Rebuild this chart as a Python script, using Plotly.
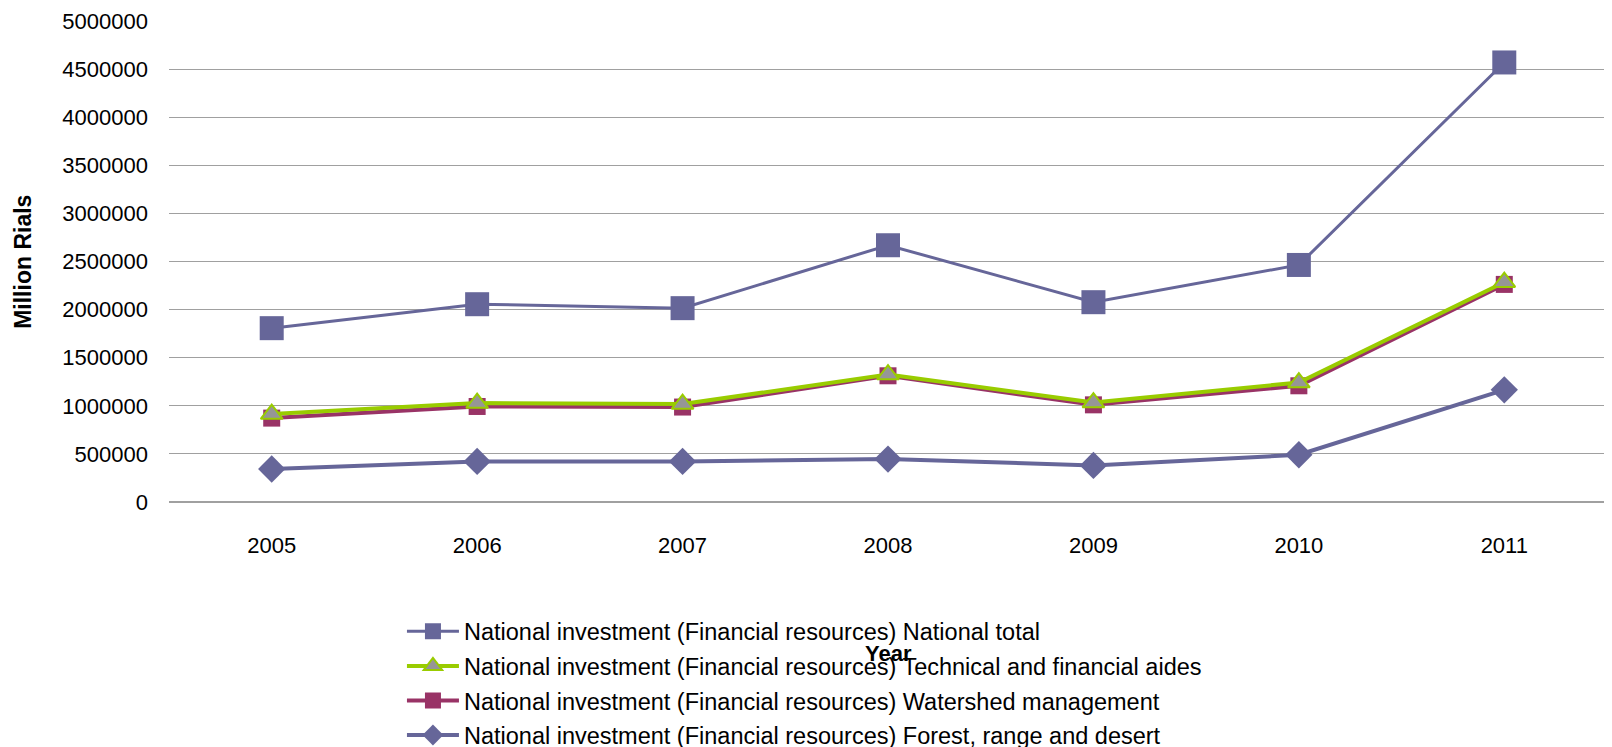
import plotly.graph_objects as go

years = ["2005", "2006", "2007", "2008", "2009", "2010", "2011"]
national_total = [1807000, 2056000, 2015000, 2669000, 2077000, 2464000, 4569000]
technical_aides = [914000, 1028000, 1018000, 1325000, 1034000, 1242000, 2285000]
watershed = [872000, 993000, 987000, 1312000, 1010000, 1208000, 2262000]
forest_range_desert = [343000, 422000, 422000, 446000, 380000, 491000, 1166000]

names = [
    "National investment (Financial resources) National total",
    "National investment (Financial resources) Technical and financial aides",
    "National investment (Financial resources) Watershed management",
    "National investment (Financial resources) Forest, range and desert",
]

FONT = "Liberation Sans, Arial, sans-serif"
SLATE = "#666699"
GREEN = "#99CC00"
MAROON = "#993366"
GRAY = "#969696"

fig = go.Figure()
fig.add_trace(go.Scatter(
    x=years, y=national_total, name=names[0], mode="lines+markers",
    line=dict(color=SLATE, width=3),
    marker=dict(symbol="square", size=24, color=SLATE),
    legendrank=1, legendgroup="a"))
fig.add_trace(go.Scatter(
    x=years, y=watershed, name=names[2], mode="lines+markers",
    line=dict(color=MAROON, width=4),
    marker=dict(symbol="square", size=17, color=MAROON),
    legendrank=3, legendgroup="c"))
fig.add_trace(go.Scatter(
    x=years, y=technical_aides, name=names[1], mode="lines+markers",
    line=dict(color=GREEN, width=4),
    marker=dict(symbol="triangle-up", size=19, color=GRAY,
                line=dict(color=GREEN, width=2)),
    legendrank=2, legendgroup="b"))
fig.add_trace(go.Scatter(
    x=years, y=forest_range_desert, name=names[3], mode="lines+markers",
    line=dict(color=SLATE, width=4),
    marker=dict(symbol="diamond", size=21, color=SLATE),
    legendrank=4, legendgroup="d"))

fig.update_layout(
    width=1604, height=770, autosize=False,
    margin=dict(l=161, r=5, t=13, b=276, autoexpand=False),
    paper_bgcolor="white", plot_bgcolor="white",
    font=dict(family=FONT, size=22, color="black"),
    showlegend=True,
    legend=dict(
        orientation="v", x=0.162, xanchor="left", y=-0.2236, yanchor="top",
        font=dict(family=FONT, size=23.5, color="black"),
        itemwidth=52, tracegroupgap=1, bgcolor="rgba(0,0,0,0)",
        traceorder="grouped"),
    xaxis=dict(
        type="category", range=[-0.5, 6.5], showgrid=False,
        showline=False, ticks="", tickfont=dict(size=22),
        ticklabelstandoff=28, zeroline=False),
    yaxis=dict(
        range=[0, 5000000], dtick=500000, tickformat="d",
        showgrid=True, gridcolor="#A0A0A0", gridwidth=1.3,
        zeroline=True, zerolinecolor="#A0A0A0", zerolinewidth=1.5,
        showline=False, ticks="", tickfont=dict(size=22),
        ticklabelstandoff=20),
    annotations=[
        dict(text="<b>Million Rials</b>", textangle=-90, xref="paper", yref="paper",
             x=-0.102, y=0.5, xanchor="center", yanchor="middle", showarrow=False,
             font=dict(family=FONT, size=23, color="black")),
        dict(text="<b>Year</b>", xref="paper", yref="paper",
             x=0.5, y=-0.316, xanchor="center", yanchor="middle", showarrow=False,
             font=dict(family=FONT, size=22, color="black")),
    ],
)

fig.write_html("out.html")
